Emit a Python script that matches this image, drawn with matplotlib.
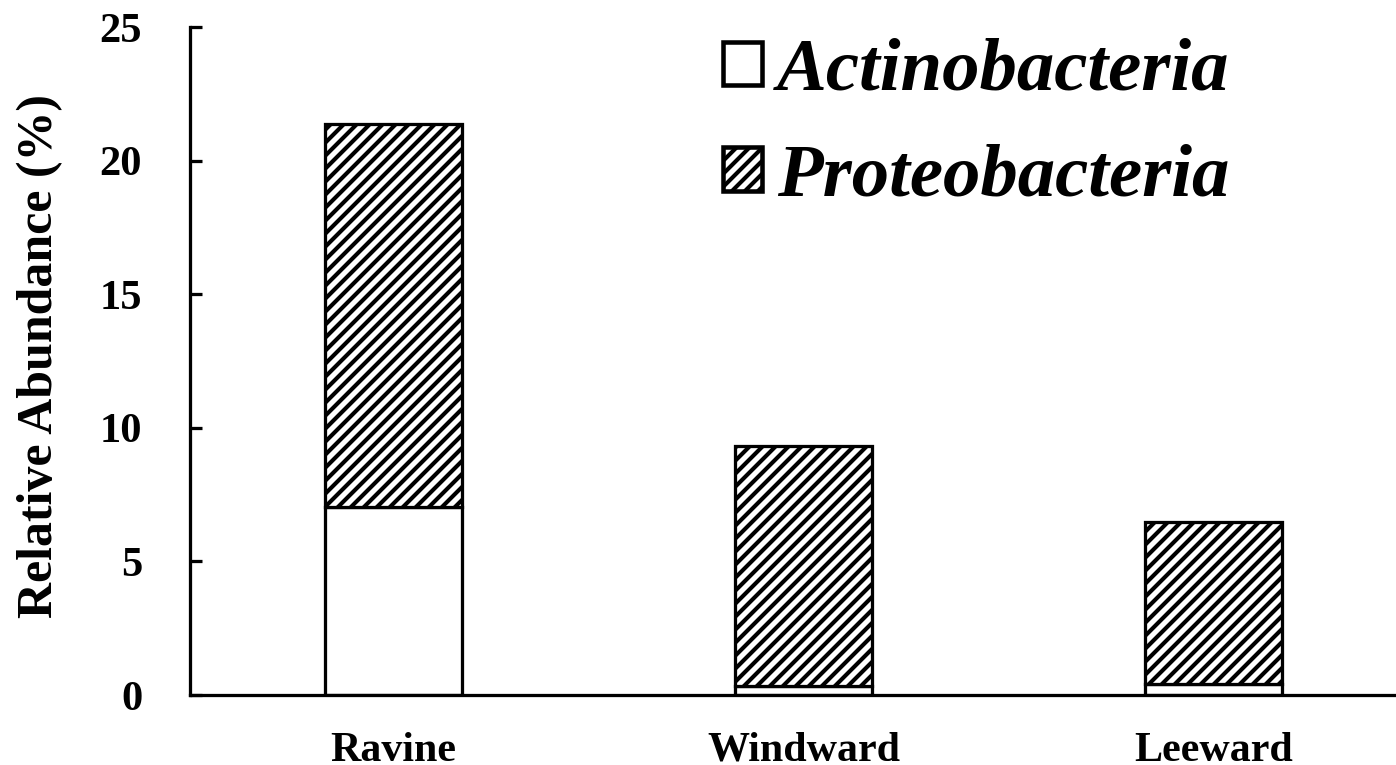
import numpy as np
import matplotlib
matplotlib.use("Agg")
import matplotlib.pyplot as plt

sites = ["Ravine", "Windward", "Leeward"]
actinobacteria = [7.05, 0.35, 0.42]
proteobacteria = [14.32, 8.97, 6.05]

plt.rcParams['font.family'] = ['Liberation Serif', 'DejaVu Serif']
plt.rcParams['font.weight'] = 'bold'
plt.rcParams['hatch.linewidth'] = 1.9

# dpi 156 so the '////' hatch spacing matches the original (~13 px)
DPI = 156
fig = plt.figure(figsize=(1396 / DPI, 765 / DPI), dpi=DPI)
ax = fig.add_axes([0.136, 0.0915, 0.864, 0.8732])

x = np.arange(len(sites))
w = 0.335
lw = 1.5
ax.bar(x, actinobacteria, w, color="white", edgecolor="black", linewidth=lw,
       label="Actinobacteria")
ax.bar(x, proteobacteria, w, bottom=actinobacteria, color="white", edgecolor="black",
       linewidth=lw, hatch="////", label="Proteobacteria")

ax.set_ylim(0, 25)
ax.set_xlim(-0.497, 2.445)
ax.set_yticks([0, 5, 10, 15, 20, 25])
ax.set_xticks(x)
ax.set_xticklabels(sites)
ax.tick_params(axis="y", direction="in", length=5.5, width=lw, labelsize=19.6, pad=22)
ax.tick_params(axis="x", length=0, labelsize=19.4, pad=17)
for s in ["top", "right"]:
    ax.spines[s].set_visible(False)
ax.spines["left"].set_linewidth(lw)
ax.spines["bottom"].set_linewidth(lw)
ax.set_ylabel("Relative Abundance (%)", fontsize=23, fontweight="bold", labelpad=17)
ax.yaxis.label.set_y(0.507)

leg = ax.legend(loc="upper left", bbox_to_anchor=(723 / 1396, 1 - 38 / 765),
                bbox_transform=fig.transFigure, frameon=False,
                prop={"family": "Liberation Serif", "style": "italic", "weight": "bold", "size": 34.5},
                handlelength=0.52, handleheight=0.52, handletextpad=0.2, labelspacing=0.5,
                borderpad=0, borderaxespad=0)
for h in leg.legend_handles:
    h.set_linewidth(lw * 1.4)

fig.savefig("out.png", dpi=DPI)
